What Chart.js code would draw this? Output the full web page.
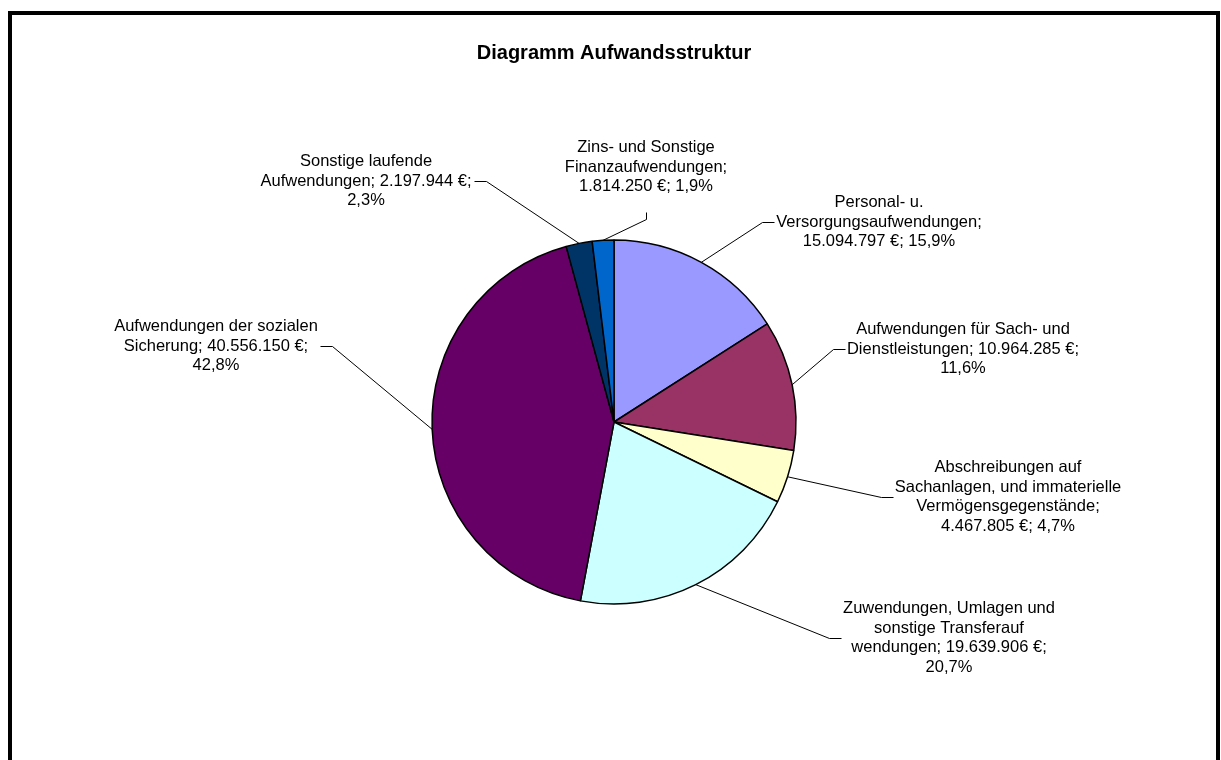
<!DOCTYPE html>
<html>
<head>
<meta charset="utf-8">
<script src="https://cdn.jsdelivr.net/npm/chart.js@4/dist/chart.umd.min.js"></script>
<style>
    body { margin: 0; background: #fff; overflow: hidden; }
    #wrap { position: relative; width: 1221px; height: 760px; }
    #chartCanvas { position: absolute; left: 0; top: 0; }
    #frame {
        position: absolute; left: 8px; top: 11px;
        width: 1204px; height: 800px;
        border: 4px solid #000; pointer-events: none;
    }
</style>
</head>
<body>
<div id="wrap">
    <canvas id="chartCanvas" width="1221" height="760"></canvas>
    <div id="frame"></div>
</div>
<script>
const chartTitle = "Diagramm Aufwandsstruktur";
const categories = [
    "Personal- u. Versorgungsaufwendungen",
    "Aufwendungen für Sach- und Dienstleistungen",
    "Abschreibungen auf Sachanlagen, und immaterielle Vermögensgegenstände",
    "Zuwendungen, Umlagen und sonstige Transferauf wendungen",
    "Aufwendungen der sozialen Sicherung",
    "Sonstige laufende Aufwendungen",
    "Zins- und Sonstige Finanzaufwendungen"
];
const amounts = [15094797, 10964285, 4467805, 19639906, 40556150, 2197944, 1814250];
const sliceColors = ["#9999FF", "#993366", "#FFFFCC", "#CCFFFF", "#660066", "#003366", "#0066CC"];

// label placement (layout only)
const labelCx = [879, 963, 1008, 949, 216, 366, 646];
const labelCy = [222, 349, 497, 638, 346, 181, 167];
const labelSide = ["left", "left", "left", "left", "right", "right", "bottom"];
const wordsPerLine = [[2, 1, 3], [4, 3, 1], [2, 3, 1, 3], [3, 2, 3, 1], [3, 3, 1], [2, 3, 1], [3, 1, 3]];

const total = amounts.reduce((a, b) => a + b, 0);
const fmtEuro = n => String(n).replace(/\B(?=(\d{3})+(?!\d))/g, ".");
const fmtPct = n => (n / total * 100).toFixed(1).replace(".", ",") + "%";

function labelLines(i) {
    const words = (categories[i] + "; " + fmtEuro(amounts[i]) + " €; " + fmtPct(amounts[i])).split(" ");
    const lines = [];
    let k = 0;
    wordsPerLine[i].forEach(n => {
        lines.push(words.slice(k, k + n).join(" "));
        k += n;
    });
    return lines;
}

const labelPlugin = {
    id: "labelPlugin",
    afterDraw(chart) {
        const c = chart.ctx;
        c.save();
        c.fillStyle = "#000";
        c.textAlign = "center";
        c.textBaseline = "middle";
        c.font = "bold 20px 'Liberation Sans', Arial, sans-serif";
        c.fillText(chartTitle, 614, 53);

        c.font = "16.5px 'Liberation Sans', Arial, sans-serif";
        c.strokeStyle = "#000";
        c.lineWidth = 1;
        const lh = 19.5;
        const arcs = chart.getDatasetMeta(0).data;
        arcs.forEach((arc, i) => {
            const lines = labelLines(i);
            const top = labelCy[i] - (lines.length - 1) * lh / 2;
            let maxW = 0;
            lines.forEach((t, j) => {
                c.fillText(t, labelCx[i], top + j * lh);
                maxW = Math.max(maxW, c.measureText(t).width);
            });
            const p = arc.getProps(["x", "y", "startAngle", "endAngle", "outerRadius"], true);
            const mid = (p.startAngle + p.endAngle) / 2;
            const ax = p.x + Math.cos(mid) * p.outerRadius;
            const ay = p.y + Math.sin(mid) * p.outerRadius;
            let sx, sy, kx, ky;
            if (labelSide[i] === "left") {
                sx = labelCx[i] - maxW / 2 - 2; sy = labelCy[i];
                kx = sx - 12; ky = sy;
            } else if (labelSide[i] === "right") {
                sx = labelCx[i] + maxW / 2 + 2; sy = labelCy[i];
                kx = sx + 12; ky = sy;
            } else {
                sx = labelCx[i]; sy = labelCy[i] + 45;
                kx = sx; ky = sy + 7;
            }
            c.beginPath();
            c.moveTo(Math.round(sx) + 0.5, Math.round(sy) + 0.5);
            c.lineTo(Math.round(kx) + 0.5, Math.round(ky) + 0.5);
            c.lineTo(ax, ay);
            c.stroke();
        });
        c.restore();
    }
};

const ctx = document.getElementById("chartCanvas").getContext("2d");

const config = {
    type: "pie",
    data: {
        labels: categories,
        datasets: [
            {
                data: amounts,
                backgroundColor: sliceColors,
                borderColor: "#000",
                borderWidth: 1.5,
                radius: 182
            }
        ]
    },
    options: {
        responsive: false,
        animation: false,
        layout: {
            padding: { left: 400, right: 393, top: 300, bottom: 216 }
        },
        plugins: {
            legend: { display: false },
            title: { display: false },
            tooltip: { enabled: false }
        }
    },
    plugins: [labelPlugin]
};

const chart = new Chart(ctx, config);
</script>
</body>
</html>
